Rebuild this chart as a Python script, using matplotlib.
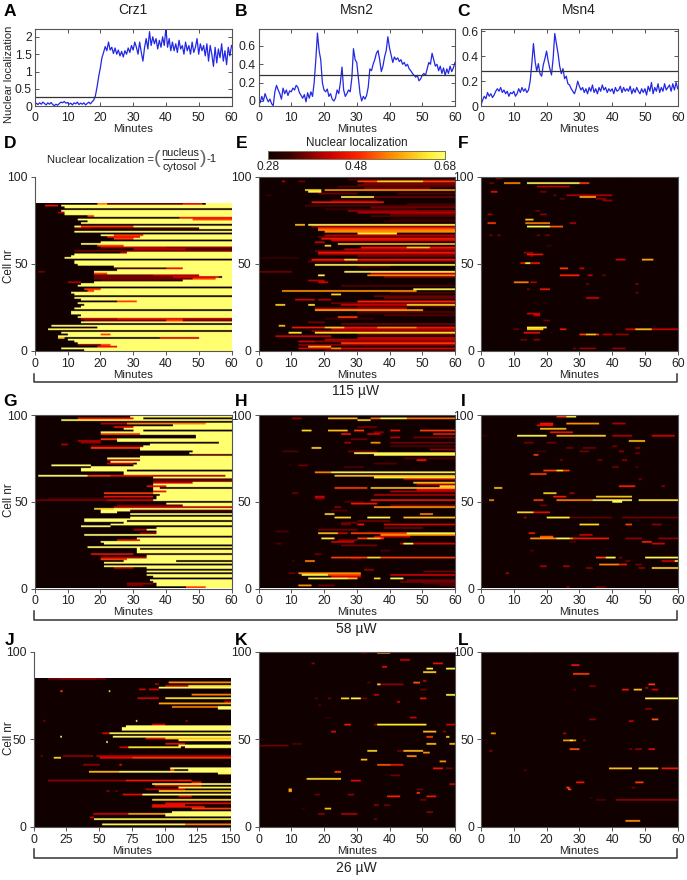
import numpy as np
import matplotlib
matplotlib.use('Agg')
import matplotlib.pyplot as plt
from matplotlib.colors import LinearSegmentedColormap, Normalize

plt.rcParams['font.family'] = ['Liberation Sans', 'DejaVu Sans']

# ---------- trace data (one value per half minute) ----------
CRZ1 = [.02,.09,.05,.1,.06,.12,.08,.04,.1,.06,.11,.05,.02,.06,.03,.08,.12,.1,.14,.09,
        .11,.06,.09,.04,.1,.07,.12,.05,.09,.06,.1,.04,.08,.12,.07,.13,
        .18,.3,.55,.85,1.1,1.4,1.55,1.72,
        1.6,1.85,1.62,1.7,1.52,1.68,1.5,1.62,1.45,1.58,1.42,1.6,1.5,1.68,1.55,1.75,1.62,1.85,1.7,1.5,
        1.85,1.55,1.3,1.7,1.95,1.65,2.15,1.75,2.0,1.8,1.95,1.65,1.9,1.7,2.0,1.75,2.25,1.7,1.95,1.6,
        1.85,1.6,1.8,1.55,1.9,1.65,1.75,1.5,1.85,1.6,1.75,1.5,1.85,1.55,1.7,1.95,1.5,1.8,1.6,1.75,
        1.45,1.8,1.3,1.75,1.5,1.15,1.7,1.25,1.65,1.4,1.8,1.3,1.6,1.2,1.7,1.45,1.75]
MSN2 = [.02,-.02,.05,.0,.08,.03,-.01,.02,-.03,-.05,
        .1,.17,.12,.08,.02,.14,.08,.12,.06,.11,
        .1,.14,.12,.17,.15,.09,.06,.03,.07,-.01,
        .09,.03,.1,.05,.2,.45,.74,.55,.45,.2,
        .12,.1,.13,.05,.08,.02,.0,.03,.12,.08,
        .2,.37,.12,.05,.08,.12,.1,.25,.57,.45,
        .42,.25,.08,.0,.05,.02,.06,.15,.35,.33,
        .4,.45,.52,.55,.45,.32,.38,.48,.55,.7,
        .58,.5,.42,.48,.45,.47,.43,.45,.4,.42,
        .38,.4,.35,.33,.3,.28,.26,.28,.22,.24,
        .28,.3,.28,.35,.42,.4,.52,.45,.38,.4,
        .33,.38,.3,.36,.28,.35,.3,.38,.32,.36,.42]
MSN4 = [.01,.05,.08,.06,.11,.08,.1,.07,.09,.12,
        .14,.12,.15,.11,.13,.1,.12,.08,.11,.1,
        .12,.08,.1,.14,.11,.15,.12,.14,.11,.13,
        .2,.34,.5,.36,.28,.34,.26,.24,.33,.38,
        .44,.36,.3,.25,.38,.58,.5,.42,.32,.26,
        .3,.22,.24,.18,.17,.14,.12,.1,.14,.2,
        .16,.13,.15,.11,.14,.1,.15,.12,.17,.11,
        .14,.1,.15,.12,.17,.13,.15,.11,.14,.12,
        .14,.1,.15,.12,.13,.16,.11,.15,.12,.14,
        .12,.16,.1,.14,.11,.15,.12,.1,.14,.11,
        .14,.09,.16,.12,.19,.1,.15,.12,.18,.11,
        .15,.12,.18,.13,.15,.17,.12,.18,.13,.19,.14]
THRESHOLD = 0.28

# ---------- heat map data: (cell, from minute, to minute, localization) ----------
D_ONSET = [15,8,20,20,13,12,10,38,7,10,8,60,4,6,5,60,14,60,60,13,14,11,11,60,12,14,15,13,20,14,
           12,60,12,11,16,15,60,13,14,18,45,55,57,50,18,18,25,45,24,13,12,12,60,9,11,12,28,60,60,60,
           19,14,20,60,24,22,20,60,12,60,50,12,60,14,16,13,60,18,9,8,8,60,9,8,52]
D_MARKS = [(2,19,25,.45),(3,13,20,.36),(3,20,23,.5),(7,7,9,.6),(7,38,50,.42),(9,20,23,.5),(13,6,19,.3),
           (17,15,60,.36),(18,14,60,.4),(18,25,45,.45),(17,40,45,.5),(28,20,25,.3),(28,25,31,.5),(34,16,18,.5),
           (35,15,20,.5),(39,10,14,.4),(40,20,40,.34),(40,38,45,.32),(41,18,48,.36),(41,48,55,.5),(42,18,42,.36),
           (42,42,56,.42),(43,18,42,.36),(43,36,50,.4),(47,24,40,.34),(47,40,45,.45),(44,18,22,.5),(45,1,3,.36),
           (56,26,28,.4),(57,12,60,.36),(58,30,46,.4),(58,46,60,.34),(59,20,40,.4),(59,40,60,.38),(60,19,27,.5),
           (64,24,30,.5),(65,22,32,.45),(66,24,33,.5),(70,12,25,.36),(70,17,50,.34),(71,14,30,.5),(76,44,60,.45),
           (75,48,60,.5),(77,16,18,.5),(83,3,7,.45),(84,19,22,.55),(84,22,51,.36),(84,45,51,.45),(79,7,9,.4)]

G_ONSET = [46,37,37,36,35,37,36,34,34,34,34,34,21,21,21,27,21,34,34,32,31,31,31,16,16,21,20,32,31,28,
           15,37,37,34,37,14,23,27,15,15,29,29,29,20,20,18,37,42,40,40,36,37,37,38,21,36,36,36,34,36,
           36,36,36,36,1,27,27,14,14,17,5,31,23,22,22,32,48,47,48,32,32,19,35,56,25,25,49,49,20,20,
           30,27,28,30,30,27,8,29,29,29]
G_MARKS = [(0,46,52,.5),(1,28,33,.36),(2,28,36,.38),(5,28,60,.28),(8,34,60,.28),(10,21,60,.28),(11,24,30,.4),
           (13,21,60,.28),(15,43,60,.28),(16,20,28,.5),(17,20,34,.4),(19,17,30,.45),(19,30,60,.3),(22,32,60,.28),
           (24,16,60,.28),(27,25,32,.45),(29,16,60,.28),(31,32,37,.38),(33,30,34,.4),(35,23,60,.28),
           (38,28,60,.28),(41,29,60,.28),(43,25,60,.28),(44,29,60,.34),(45,18,24,.62),(46,24,60,.4),(47,25,45,.36),
           (49,36,60,.28),(50,0,22,.36),(50,22,36,.42),(51,4,22,.32),(52,21,36,.45),(54,21,36,.5),(55,36,40,.45),
           (57,38,60,.28),(58,34,40,.45),(60,36,48,.42),(61,36,60,.36),(62,36,60,.34),(64,16,23,.5),(64,23,36,.45),
           (64,36,58,.4),(67,28,60,.28),(70,17,30,.28),(71,22,30,.42),(73,22,32,.4),(76,48,60,.34),(78,28,48,.28),
           (80,17,32,.5),(81,17,33,.36),(82,8,10,.4),(83,14,20,.38),(84,13,20,.4),(85,20,25,.5),(86,22,49,.28),
           (88,20,32,.5),(90,33,60,.28),(92,24,30,.45),(93,30,42,.28),(94,20,30,.4),(97,13,30,.45),(97,33,60,.28),
           (95,27,60,.28),(96,8,30,.66),(94,28,52,.55)]

J_MARKS = [(84,11,55,.36),(84,20,48,.38),(82,103,150,.56),(81,92,95,.4),(80,100,150,.42),(80,118,150,.62),
           (79,95,150,.68),(78,80,85,.42),(78,88,95,.42),(77,20,22,.5),(77,57,58,.64),(75,120,150,.55),
           (73,79,95,.42),(73,100,150,.64),(71,145,150,.4),(70,95,150,.58),(68,105,140,.55),(68,140,150,.68),
           (67,140,150,.68),(60,7,9,.36),(60,78,79,.66),(60,116,117,.42),(58,90,100,.42),(57,70,150,.68),
           (56,67,150,.68),(55,67,150,.68),(53,52,58,.42),(53,58,150,.66),(51,60,150,.68),(51,20,21,.66),(50,85,100,.45),
           (50,100,150,.6),(49,110,150,.66),(48,55,56,.68),(47,100,115,.45),(46,110,150,.68),(45,65,75,.42),
           (45,72,112,.64),(45,115,150,.68),(40,5,7,.36),(40,22,45,.38),(40,48,150,.4),(39,15,21,.62),(39,50,75,.44),
           (39,75,150,.5),(35,38,50,.38),(35,65,67,.45),(33,104,150,.68),(32,104,107,.5),(32,118,150,.68),
           (31,42,65,.6),(31,65,150,.68),(30,140,150,.66),(26,11,70,.38),(26,70,110,.46),(26,110,120,.48),
           (25,120,128,.45),(24,90,150,.66),(24,125,150,.68),(23,92,128,.4),(22,110,150,.66),(21,85,115,.4),
           (20,55,58,.38),(20,62,64,.36),(20,95,150,.62),(18,68,83,.44),(18,83,150,.68),(17,110,120,.42),
           (15,90,150,.62),(13,100,150,.44),(12,90,115,.45),(11,90,130,.45),(10,120,150,.5),(8,105,150,.68),
           (7,45,72,.42),(7,72,100,.58),(7,100,150,.68),(6,100,150,.68),(5,43,46,.42),(4,46,150,.66),
           (1,52,150,.66),(1,115,150,.55)]

E_MARKS = [(98,27,60,.34),(97,7,8,.4),(97,12,14,.36),(97,30,60,.5),(97,36,50,.62),(95,30,60,.36),(92,14,19,.62),(91,15,19,.66),
           (92,20,60,.56),(89,2,4,.32),(88,25,35,.66),(88,35,60,.36),(85,16,38,.46),(83,14,60,.34),(80,27,60,.38),
           (77,34,60,.34),(75,40,60,.32),(72,11,14,.6),(72,15,60,.66),(70,18,60,.5),(69,18,60,.55),(68,20,60,.56),(67,30,42,.64),
           (64,19,60,.46),(62,17,20,.42),(61,24,60,.6),(60,20,22,.62),(59,31,60,.46),(59,45,52,.6),(56,18,60,.46),(54,30,60,.36),(53,0,12,.32),
           (52,16,60,.46),(52,26,30,.62),(49,17,60,.66),(45,0,10,.36),(45,26,60,.66),(43,18,20,.66),(43,33,60,.55),
           (40,15,20,.4),(39,18,21,.42),(35,47,60,.66),(34,7,48,.56),(33,40,60,.34),(32,22,25,.62),(29,11,17,.42),(29,18,22,.4),(28,30,60,.48),
           (26,5,8,.62),(26,15,17,.64),(26,25,60,.42),(26,45,60,.62),(24,17,45,.4),(23,17,50,.58),(21,30,60,.32),(19,24,30,.5),(14,6,8,.6),
           (13,10,60,.46),(13,20,26,.6),(13,36,48,.55),(12,22,60,.4),(10,9,13,.64),(10,17,60,.64),(8,5,22,.42),(5,12,17,.42),(5,17,60,.38),
           (4,25,60,.5),(3,12,60,.38),(2,15,22,.58),(1,12,60,.42),(1,22,25,.55),
           (96,32,60,.36),(94,24,60,.34),(93,32,52,.36),(90,18,30,.36),(90,42,60,.34),(86,22,36,.36),(84,45,60,.33),(82,34,60,.36),(81,20,48,.33),
           (79,30,60,.4),(78,40,60,.36),(74,38,60,.33),(71,16,60,.38),(66,20,60,.4),(65,18,60,.36),(63,22,60,.42),(58,26,60,.4),(57,17,60,.36),
           (55,18,60,.38),(51,15,60,.36),(48,30,40,.34),(44,34,60,.4),(42,38,60,.36),(37,25,60,.34),(31,35,60,.36),(30,38,60,.36),(27,22,60,.36),
           (25,30,60,.34),(22,30,60,.34),(20,38,60,.34),(18,20,35,.33),(16,15,20,.36),(15,25,60,.36),(11,16,60,.38),(9,30,60,.36),(7,30,60,.42),
           (6,20,60,.4),(0,20,60,.34)]
H_MARKS = [(99,34,36,.4),(99,57,60,.34),(97,10,13,.38),(97,21,30,.6),(96,30,34,.62),(97,34,60,.54),(97,37,45,.66),(90,13,16,.62),(90,21,27,.6),
           (90,29,32,.5),(90,40,43,.46),(90,49,60,.5),(88,25,28,.46),(88,33,37,.42),(88,53,60,.46),(83,26,28,.4),(83,34,37,.56),(83,40,60,.36),
           (80,16,19,.62),(78,7,12,.34),(78,29,33,.5),(77,29,60,.66),(76,35,60,.66),(73,48,51,.46),(70,9,10,.32),(70,12,15,.36),(66,17,22,.55),
           (66,22,60,.66),(64,23,60,.6),(63,35,60,.64),(60,47,60,.6),(58,55,60,.62),(57,23,33,.5),(57,34,60,.6),(55,40,60,.4),(54,10,12,.36),
           (52,17,20,.42),(50,34,60,.46),(48,28,36,.46),(46,23,25,.38),(46,35,60,.56),(42,20,23,.62),(42,49,53,.55),(40,23,28,.62),(40,33,40,.66),
           (40,44,60,.6),(36,25,28,.36),(36,30,32,.46),(36,38,60,.42),(32,5,9,.34),(31,18,24,.6),(31,24,27,.42),(31,28,60,.5),(31,45,60,.66),(30,37,60,.56),
           (28,19,23,.64),(28,30,38,.5),(28,33,37,.6),(26,22,29,.42),(25,5,7,.34),(25,43,60,.42),(25,44,47,.66),(17,22,60,.5),(17,33,37,.62),
           (15,14,17,.55),(15,10,11,.33),(8,9,11,.36),(8,12,31,.56),(7,13,21,.66),(7,21,31,.5),(7,40,60,.42),(5,15,27,.66),(5,27,30,.6),(5,35,37,.62),(5,40,44,.66),
           (3,43,60,.36),(1,12,16,.56),(1,18,23,.36),(1,55,60,.34),
           (92,30,36,.36),(89,35,38,.38),(86,40,43,.4),(86,47,60,.36),(85,28,33,.36),(81,40,60,.34),(79,52,60,.38),(78,27,36,.36),(74,44,60,.34),
           (71,35,42,.34),(69,26,32,.34),(62,44,60,.4),(59,48,60,.4),(56,48,60,.42),(53,35,60,.4),(51,17,20,.38),(49,26,32,.34),(47,40,60,.36),
           (44,22,27,.34),(38,30,40,.36),(37,25,30,.36),(34,38,50,.36),(33,18,30,.36),(29,35,46,.42),(27,24,30,.38),(24,25,36,.36),(21,37,40,.34),
           (19,17,19,.36),(16,28,31,.34),(10,32,35,.38),(9,50,60,.36),(6,22,31,.42),(4,45,60,.36),(2,50,60,.34)]
F_MARKS = [(99,4.5,6.5,.4),(96,2.5,4,.36),(96,7,12,.55),(96,14,30,.66),(96,30,33,.5),(94,17,27,.4),(91,3,5,.45),(91,18,20,.36),(89,22,23,.35),
           (89,26,40,.4),(88,30,35,.58),(87,24,25.5,.35),(87,35,38,.38),(86,37,40,.38),(80,16.5,18,.36),(78,2,3.5,.4),(78,18,20,.38),(75,13.5,16,.6),
           (73,2,4.5,.5),(73,13.5,21,.55),(73,27,29,.4),(71,14,25,.52),(71,14,21,.66),(66,2.5,3.5,.36),(66,5,6,.36),(66,17,18,.36),(66,19.5,21,.36),
           (60,20,21.5,.32),(56,13,16,.38),(55,14,19,.45),(54,15,16,.36),(52,41,44,.42),(52,49,52.5,.58),(50,12,18,.46),(50,13.5,15,.66),(47,24,26.5,.5),
           (47,30,31.5,.42),(43,24,30,.48),(43,32.5,34,.42),(43,37,38,.36),(39,10,14.5,.55),(39,15,17,.4),(38,47,48,.38),(38,32,33,.36),(35,14,15,.36),
           (35,18,21,.46),(33,47,48,.36),(30,32,36,.42),(27,16,17,.32),(27,19,20,.32),(21,14,18,.42),(20,16,18,.42),(17,19,21,.36),(13,14,20,.64),
           (12,14,19,.6),(12,10,11.5,.36),(12,24,26,.46),(12,44,60,.42),(12,47,52,.6),(9,30,36,.5),(9,32,35,.6),(9,37,40,.4),(9,41,45,.38),(10,13,18,.45),(10,21,22,.32),
           (6,12,14,.36),(6,16,18,.38),(1,28,29,.36),(1,30,35,.38),(1,40,44,.38)]
I_MARKS = [(99,12,21,.5),(99,14,18,.66),(99,2,3.5,.34),(98,23,26,.5),(98,26,29,.66),(94,26,36,.56),(94,40,44,.4),(94,18,22,.46),(93,17,22,.44),(91,18,26,.6),
           (89,21,28,.46),(87,11,20,.66),(87,23,38,.62),(87,0,2,.32),(87,40,46,.4),(87,52,59,.42),(84,45,50,.6),(83,13,16,.36),(83,20,23,.36),
           (80,26,28,.36),(80,31,35,.36),(81,40,41.5,.36),(80,47,48.5,.38),(78,17,20,.33),(78,30,33,.36),(78,42,43.5,.38),(77,47,48.5,.36),(76,16,17.5,.5),(73,24,25,.36),(73,35.5,37,.36),
           (73,43,44.5,.38),(69,40,42,.36),(69,47,48,.34),(67,19,27,.5),(67,23,25,.62),(65,15,20,.5),(62,48,49,.36),(58,42,47,.48),(58,55,56,.38),
           (57,4,6.5,.6),(54,19,23,.62),(54,27,28.5,.4),(52,22,26,.46),(52,35,46,.6),(50,2.5,4,.55),(50,16,19,.5),(50,23,38,.55),(50,34,46,.66),
           (50,48,60,.64),(49,40,43,.66),(47,18,20,.36),(43,11,16,.62),(43,16,21,.44),(40,13,14,.38),(40,20,27,.64),(40,27,40,.35),(40,43,60,.36),
           (36,30,36,.62),(36,44,46,.5),(36,52,55,.38),(31,14.5,16.5,.46),(30,30,34,.42),(29,18,22,.52),(28,15,28,.56),(28,23,27,.66),(28,28,39,.46),
           (28,44,49,.38),(28,54,60,.38),(26,27,29,.34),(26,49,52,.48),(25,52,56,.42),(21,15,16,.34),(17,35,41,.5),(17,38,41,.66),(17,42,43,.36),(17,50,60,.66),
           (15,44,45.5,.36),(15,55,60,.42),(15,59,60,.66),(13,36,42,.55),(13,42,44.5,.46),(13,47,49,.36),(11,52,60,.62),(12,18,20,.4),(12,25,27,.4),(11,32,34,.38),
           (11,48,50,.38),(8,7.5,8.5,.4),(0,26,27,.36),(0,35,38,.36)]
K_MARKS = [(99,31,33,.35),(99,36,40,.55),(95,43,46,.42),(93,16,17,.38),(93,53,56,.45),(91,37.5,39,.45),(90,51,53,.65),(90,57,60,.66),(88,50,54,.62),
           (83,50,51,.42),(82,33,34,.34),(81,36,37,.62),(81,37,44,.38),(82,47,49,.52),(78,49,51,.36),(75,35,36.5,.42),(75,57,60,.66),(73,17,18,.34),(73,21,22,.36),(73,25,27.5,.62),
           (73,28,31,.66),(73,31,33,.36),(73,49,51,.46),(71,42,43,.42),(69,18,19,.34),(62,46,48,.42),(62,20,22,.32),(58,26,28,.46),(58,36,51,.64),
           (58,35,36,.38),(58,57,60,.42),(54,22,23.5,.44),(54,50,54,.6),(54,56,57,.38),(51,51,53,.5),(51,57,58,.62),(47,10,13,.34),(47,51,54,.6),
           (47,58,60,.6),(46,0,9,.36),(43,33,36,.62),(43,42,44,.36),(43,44,50,.6),(42,50,52,.56),(40,45,48,.56),(38,31,33,.6),(37,55,57,.56),
           (35,36,40,.52),(35,40,44,.46),(33,53,56,.46),(33,57,59,.36),(31,23,25,.5),(29,40,43,.36),(27,14.5,25,.62),(26,28,31,.44),(24,58,60,.42),
           (21,9,10,.58),(20,9,10,.58),(21,48,50,.36),(18,17,18.5,.36),(18,27,29,.38),(17,39,43,.48),(17,51,54,.46),(19,48,49,.5),(15,49,51,.36),
           (12,35,36.5,.38),(12,38,40,.36),(10,13,14,.32),(10,20,22,.6),(7,18,20,.38),(7,25,30,.4),(8,51,53,.38),(4,35,36,.36)]
L_MARKS = [(99,39,40,.32),(99,14,15,.32),(99,53,54,.32),(92,27.5,30,.46),(87,28,33,.5),(81,51,53,.5),(80,33,35,.36),(78,28,29,.34),(78,43,45,.46),
           (78,46.5,49,.6),(78,52,54,.42),(79,50,51,.4),(73,50,60,.66),(67,50,52,.38),(61,33,35,.38),(61,52,54,.52),(60,45,46.5,.42),(53,3,4.5,.56),(53,25,26,.4),
           (49,25,29,.56),(49,27,28,.66),(49,31,32,.36),(44,27,30,.52),(44,45,46,.36),(44,47,49,.38),(44,51,53,.44),(43,2.5,3.5,.38),(33,39,46,.6),
           (33,48,54,.62),(33,55,60,.46),(32,13,14,.34),(25,29,31.5,.46),(25,47,49.5,.5),(22,26,27,.5),(22,46,47,.36),(21,26.5,27.5,.5),(16,33,34,.32),
           (15,35,38,.34),(15,41,60,.38),(3,44,48.5,.56)]

# ---------- shared labels ----------
CBAR_TICKS = [0.28, 0.48, 0.68]
DOSES = ['115 µW', '58 µW', '26 µW']
W, H = 687, 880
DARK = '#555555'

cmap = LinearSegmentedColormap.from_list(
    'loc', [(0, '#100000'), (.12, '#3a0000'), (.35, '#d00000'), (.5, '#ff2000'),
            (.7, '#ff9000'), (.9, '#ffee30'), (1, '#ffff70')])
norm = Normalize(0.28, 0.68)


def rect(x0, y0, x1, y1):
    return [x0 / W, 1 - y1 / H, (x1 - x0) / W, (y1 - y0) / H]


def fig_text(x, y, s, **kw):
    kw.setdefault('ha', 'center')
    kw.setdefault('va', 'center')
    kw.setdefault('color', '#222222')
    fig.text(x / W, 1 - y / H, s, **kw)


def style(ax, xticks, yticks, ylabels=None, direction='out'):
    ax.set_xticks(xticks)
    ax.set_yticks(yticks)
    if ylabels:
        ax.set_yticklabels(ylabels)
    ax.tick_params(labelsize=8.8, length=3, width=.7, pad=2, color=DARK, labelcolor='#222222',
                   direction=direction, top=direction == 'in', right=direction == 'in')
    for s in ax.spines.values():
        s.set_color(DARK)
        s.set_linewidth(.8)
    ax.set_xlabel('Minutes', fontsize=8.2, color='#222222', labelpad=0)


def heat(box, marks, onset=None, tmax=60, rows=100, open_top=False):
    ax = fig.add_axes(rect(*box))
    grid = np.full((rows, 240), 0.28)
    per_min = 240 / tmax
    if onset is not None:
        for r, t in enumerate(onset):
            grid[r, int(t * per_min):] = 0.68
    for r, t0, t1, v in marks:
        grid[r, int(t0 * per_min):max(int(t1 * per_min), int(t0 * per_min) + 2)] = v
    ax.imshow(grid, cmap=cmap, norm=norm, origin='lower', aspect='auto',
              extent=[0, tmax, 0, rows], interpolation='hanning')
    ax.set_xlim(0, tmax)
    ax.set_ylim(0, 100)
    style(ax, np.arange(0, tmax + 1, 25 if tmax == 150 else 10), [0, 50, 100])
    if open_top:
        ax.spines['top'].set_visible(False)
        ax.spines['right'].set_visible(False)
    return ax


def trace(box, y, ylim, yticks, ylabels):
    ax = fig.add_axes(rect(*box))
    t = np.arange(len(y)) * 0.5
    ax.plot(t, y, color='#0a10e0', lw=.9, alpha=.9)
    ax.axhline(THRESHOLD, color='#333333', lw=.9)
    ax.set_xlim(0, 60)
    ax.set_ylim(*ylim)
    style(ax, np.arange(0, 61, 10), yticks, ylabels, direction='in')
    ax.tick_params(axis='x', pad=4)
    return ax


fig = plt.figure(figsize=(W / 100, H / 100), dpi=100)

X = [(34.7, 231.5), (258.5, 455), (481, 677.7)]
trace((X[0][0], 28.5, X[0][1], 106.3), CRZ1, (0, 2.24), [0, .5, 1, 1.5, 2], ['0', '0.5', '1', '1.5', '2'])
trace((X[1][0], 28.5, X[1][1], 106.3), MSN2, (-.058, .79), [0, .2, .4, .6], ['0', '0.2', '0.4', '0.6'])
trace((X[2][0], 28.5, X[2][1], 106.3), MSN4, (0, .62), [0, .2, .4, .6], ['0', '0.2', '0.4', '0.6'])

heat((X[0][0], 176.7, X[0][1], 350.7), D_MARKS, D_ONSET, rows=85, open_top=True)
heat((X[1][0], 176.7, X[1][1], 350.7), E_MARKS)
heat((X[2][0], 176.7, X[2][1], 350.7), F_MARKS)
heat((X[0][0], 415, X[0][1], 588.5), G_MARKS, G_ONSET)
heat((X[1][0], 415, X[1][1], 588.5), H_MARKS)
heat((X[2][0], 415, X[2][1], 588.5), I_MARKS)
heat((33.5, 652, 230, 826.7), J_MARKS, tmax=150, rows=85, open_top=True)
heat((X[1][0], 652, X[1][1], 826.7), K_MARKS)
heat((X[2][0], 652, X[2][1], 826.7), L_MARKS)

# colour bar
cax = fig.add_axes(rect(267.7, 150.7, 445.3, 159))
cax.imshow(np.linspace(0.28, 0.68, 256)[None, :], cmap=cmap, norm=norm, aspect='auto',
           extent=[0.28, 0.68, 0, 1])
cax.set_yticks([])
cax.set_xticks(CBAR_TICKS)
cax.set_xticklabels([f'{v:.2f}' for v in CBAR_TICKS])
cax.tick_params(length=0, labelsize=8.6, pad=1.5, labelcolor='#222222')
for s in cax.spines.values():
    s.set_color('#777755')
    s.set_linewidth(.7)
fig_text(356.5, 143, 'Nuclear localization', fontsize=8.4)

# titles and panel letters
for x, s in zip([132.7, 357, 579], ['Crz1', 'Msn2', 'Msn4']):
    fig_text(x, 10.5, s, fontsize=10)
for row_y, letters in zip([12, 143, 402, 640], ['ABC', 'DEF', 'GHI', 'JKL']):
    for x, s in zip([10, 241.5, 463], letters):
        fig_text(x, row_y, s, fontsize=12.5, fontweight='bold', color='black')

fig_text(9, 74.5, 'Nuclear localization', fontsize=8, rotation=90)
for y in [266, 500, 738]:
    fig_text(8.5, y, 'Cell nr', fontsize=8.4, rotation=90)

# formula
fig_text(154, 160, 'Nuclear localization =', fontsize=8, ha='right')
fig_text(180, 152.5, 'nucleus', fontsize=7.8)
fig_text(180, 166.5, 'cytosol', fontsize=7.8)
fig.add_artist(plt.Line2D([163 / W, 198 / W], [1 - 159.5 / H] * 2, color='#333333', lw=.7))
fig_text(157, 158.5, '(', fontsize=14, color='#666666')
fig_text(203.5, 158.5, ')', fontsize=14, color='#666666')
fig_text(211.5, 159.5, '-1', fontsize=8.2)

# dose brackets
for (top, bot, lab_y), dose in zip([(374, 382.5, 391.5), (610.5, 620, 629), (849, 858, 867.5)], DOSES):
    xs = [33.5 / W, 33.5 / W, 676.7 / W, 676.7 / W]
    ys = [1 - top / H, 1 - bot / H, 1 - bot / H, 1 - top / H]
    fig.add_artist(plt.Line2D(xs, ys, color='#333333', lw=1.1))
    fig_text(356, lab_y, dose, fontsize=10)

fig.savefig('out.png', dpi=100)
